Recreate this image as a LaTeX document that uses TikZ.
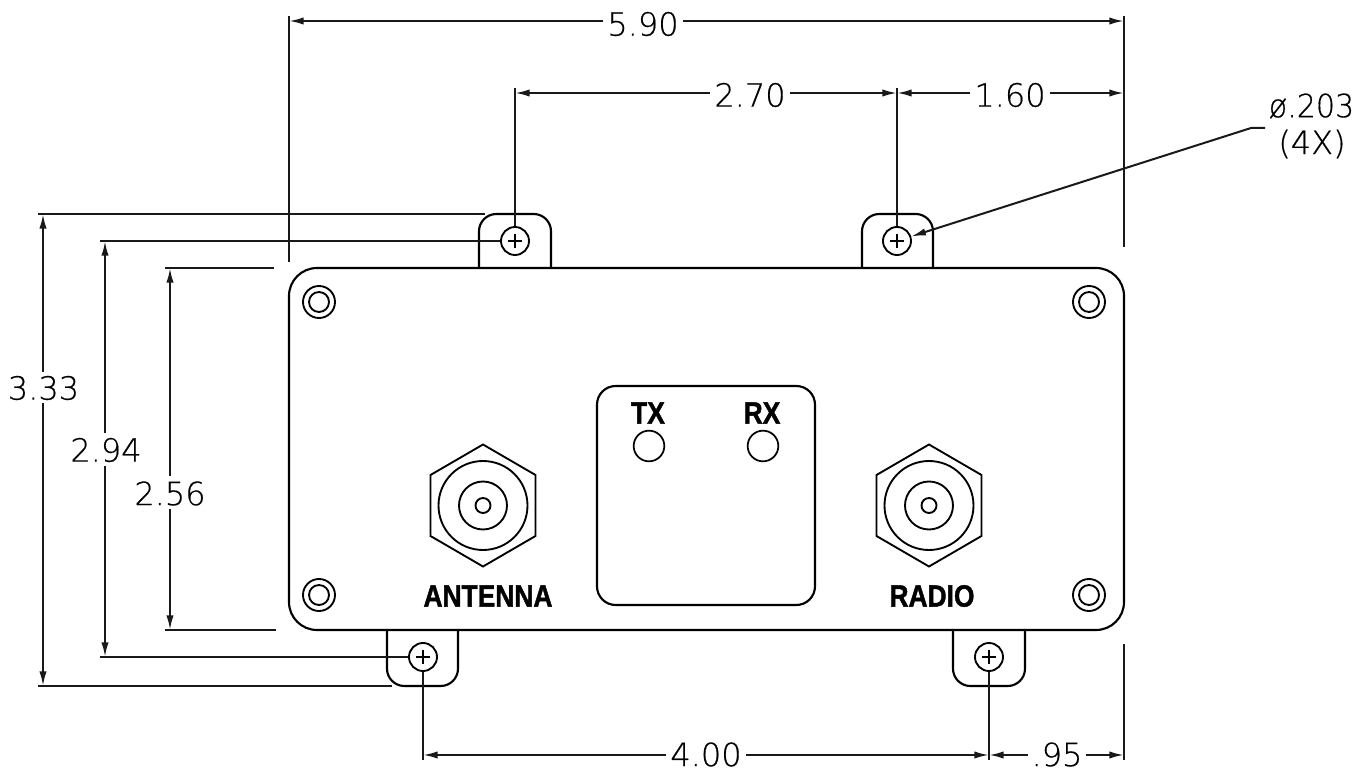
\documentclass[tikz,border=0pt]{standalone}
\usepackage{fontspec}
\usepackage{graphicx}
\usetikzlibrary{arrows.meta,calc}
\newfontfamily\dimfont{DejaVu Sans ExtraLight}[FakeBold=0.5]
\newfontfamily\labfont{Liberation Sans Bold}[FakeBold=1.5]
\newcommand{\dimtxt}[1]{{\fontsize{24pt}{28pt}\selectfont\dimfont #1}}
\newcommand{\labtxt}[2]{\scalebox{#1}[1]{\fontsize{23pt}{26pt}\selectfont\labfont #2}}
\tikzset{
  x=.75pt,y=-.75pt,
  obj/.style={draw=black,line width=1.6pt,line join=round},
  thin obj/.style={draw=black,line width=1.4pt},
  dimln/.style={draw=black!90,line width=1.5pt},
  dimarrow/.style={dimln,-{Latex[length=11pt,width=5.5pt]}},
  dimtext/.style={inner sep=0pt,outer sep=3pt,text=black},
  hole/.style={circle,draw=black,line width=1.4pt,minimum size=21pt,inner sep=0pt},
  led/.style={circle,draw=black,line width=1.3pt,minimum size=23pt,inner sep=0pt},
  lab/.style={inner sep=0pt,text=black},
  box/.style={obj,rounded corners=21pt},
  tab/.style={obj,rounded corners=13pt},
  connector/.pic={
    \draw[thin obj] (0,-61) -- (52.5,-30.5) -- (52.5,30.5) -- (0,61) -- (-52.5,30.5) -- (-52.5,-30.5) -- cycle;
    \draw[thin obj] (0,0) circle[radius=44.5];
    \draw[thin obj] (0,0) circle[radius=24];
    \draw[thin obj] (0,0) circle[radius=7.5];
  },
  screw/.pic={
    \draw[thin obj] (0,0) circle[radius=16];
    \draw[thin obj] (0,0) circle[radius=10];
  },
  plus/.pic={
    \draw[thin obj,line width=1pt] (-7,0) -- (7,0) (0,-7) -- (0,7);
  }
}
\begin{document}
\begin{tikzpicture}
\useasboundingbox (0,0) rectangle (1372,770);
% body
\draw[box,rounded corners=21pt] (289,268) rectangle (1124,630);
\draw[box,rounded corners=14pt] (597,386) rectangle (815,605);
% tabs
\draw[tab] (479,268) -- (479,214) -- (551,214) -- (551,268);
\draw[tab] (862,268) -- (862,214) -- (933,214) -- (933,268);
\draw[tab] (387,630) -- (387,686) -- (458,686) -- (458,630);
\draw[tab] (953,630) -- (953,686) -- (1025,686) -- (1025,630);
% holes
\node[hole] (h1) at (515,241) {};
\node[hole] (h2) at (897,241) {};
\node[hole] (h3) at (423,657) {};
\node[hole] (h4) at (989,657) {};
\foreach \p in {h1,h2,h3,h4} \pic at (\p) {plus};
% screws
\pic at (319,302) {screw};
\pic at (1089,302) {screw};
\pic at (319,595) {screw};
\pic at (1089,595) {screw};
% LEDs
\node[led] (tx) at (649,446) {};
\node[led] (rx) at (763,446) {};
\node[lab] (txl) at (648,413) {\labtxt{.86}{TX}};
\node[lab] (rxl) at (762,413) {\labtxt{.86}{RX}};
% connectors
\pic at (483,505.5) {connector};
\pic at (929,505.5) {connector};
\node[lab] (ant) at (488,596) {\labtxt{.86}{ANTENNA}};
\node[lab] (rad) at (932,596) {\labtxt{.86}{RADIO}};
% extension coordinates
\coordinate (t1) at (289,16);   \coordinate (t1e) at (289,262);
\coordinate (t2) at (1124,16);  \coordinate (t2e) at (1124,247);
\coordinate (u1) at (515,88);
\coordinate (u2) at (897,88);
\coordinate (b1) at (423,760);
\coordinate (b2) at (989,760);
\coordinate (b3) at (1124,760); \coordinate (b3e) at (1124,644);
\coordinate (l1) at (38,214);   \coordinate (l1e) at (485,214);
\coordinate (l2) at (38,686);   \coordinate (l2e) at (392,686);
\coordinate (m1) at (100,241);
\coordinate (m2) at (100,657);
\coordinate (n1) at (165,268);  \coordinate (n1e) at (274,268);
\coordinate (n2) at (165,630);  \coordinate (n2e) at (276,630);
% extension lines
\draw[dimln] (t1) -- (t1e);
\draw[dimln] (t2) -- (t2e);
\draw[dimln] (u1) -- (h1);
\draw[dimln] (u2) -- (h2);
\draw[dimln] (b1) -- (h3);
\draw[dimln] (b2) -- (h4);
\draw[dimln] (b3) -- (b3e);
\draw[dimln] (l1) -- (l1e);
\draw[dimln] (l2) -- (l2e);
\draw[dimln] (m1) -- (h1);
\draw[dimln] (m2) -- (h3);
\draw[dimln] (n1) -- (n1e);
\draw[dimln] (n2) -- (n2e);
% horizontal dims
\node[dimtext] (d590) at (643,24) {\dimtxt{5.90}};
\draw[dimarrow] (d590.west |- 0,21) -- (289,21);
\draw[dimarrow] (d590.east |- 0,21) -- (1124,21);
\node[dimtext] (d270) at (750,95) {\dimtxt{2.70}};
\draw[dimarrow] (d270.west |- 0,93) -- (515,93);
\draw[dimarrow] (d270.east |- 0,93) -- (897,93);
\node[dimtext] (d160) at (1010,95) {\dimtxt{1.60}};
\draw[dimarrow] (d160.west |- 0,93) -- (897,93);
\draw[dimarrow] (d160.east |- 0,93) -- (1124,93);
\node[dimtext] (d400) at (706,754.5) {\dimtxt{4.00}};
\draw[dimarrow] (d400.west |- 0,755) -- (423,755);
\draw[dimarrow] (d400.east |- 0,755) -- (989,755);
\node[dimtext] (d95) at (1057,754.5) {\dimtxt{.95}};
\draw[dimarrow] (d95.west |- 0,755) -- (989,755);
\draw[dimarrow] (d95.east |- 0,755) -- (1124,755);
% vertical dims
\node[dimtext] (d333) at (43.5,388) {\dimtxt{3.33}};
\draw[dimarrow] (43,372) -- (43,214);
\draw[dimarrow] (43,403) -- (43,686);
\node[dimtext] (d294) at (106,450) {\dimtxt{2.94}};
\draw[dimarrow] (105,433) -- (105,241);
\draw[dimarrow] (105,466) -- (105,657);
\node[dimtext] (d256) at (170,493.5) {\dimtxt{2.56}};
\draw[dimarrow] (170,476) -- (170,268);
\draw[dimarrow] (170,509) -- (170,630);
% leader
\coordinate (lead1) at (1265,128);
\coordinate (lead2) at (1251,128);
\draw[dimarrow] (lead1) -- (lead2) -- (h2);
\node[inner sep=0pt,text=black] (dia) at (1311.5,106) {\scalebox{.94}[1]{\dimtxt{ø.203}}};
\node[inner sep=0pt,text=black] (qty) at (1312,144) {\dimtxt{(4X)}};
\end{tikzpicture}
\end{document}
